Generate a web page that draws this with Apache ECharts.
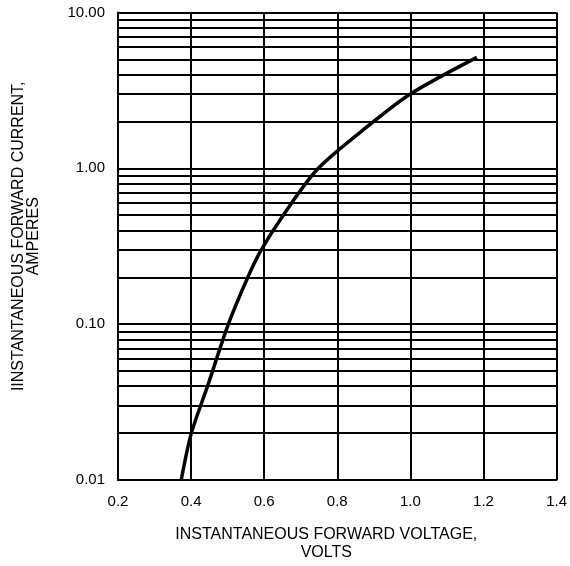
<!DOCTYPE html>
<html>
<head>
    <meta charset="utf-8" />
    <title>Forward characteristics</title>
    <script src="https://cdn.jsdelivr.net/npm/echarts@6/dist/echarts.min.js"></script>
    <style type="text/css">
        * {
            margin: 0;
            padding: 0;
        }
        html, body {
            width: 570px;
            height: 566px;
            background: #fff;
        }
        #chart {
            width: 570px;
            height: 566px;
        }
    </style>
</head>
<body>
    <div id="chart"></div>
</body>
</html>
<script type="text/javascript">
    // curve (volts -> amperes)
    var voltage = [0.373, 0.400, 0.445, 0.502, 0.554, 0.590, 0.649, 0.748, 0.893, 1.000, 1.182];
    var current = [0.010, 0.0197, 0.040, 0.100, 0.197, 0.294, 0.488, 1.00, 1.94, 3.00, 5.15];

    // log paper lines between the decades
    var minorLines = [0.02, 0.03, 0.04, 0.05, 0.06, 0.07, 0.08, 0.09,
                      0.2, 0.3, 0.4, 0.5, 0.6, 0.7, 0.8, 0.9,
                      2, 3, 4, 5, 6, 7, 8, 9];

    var xTicks = { min: 0.2, max: 1.4, step: 0.2 };
    var yTicks = { min: 0.01, max: 10 };

    var font = '"Liberation Sans", Arial, sans-serif';

    var points = [];
    for (var i = 0; i < voltage.length; i++) {
        points.push([voltage[i], current[i]]);
    }

    var gridMarks = [];
    for (var j = 0; j < minorLines.length; j++) {
        gridMarks.push({ yAxis: minorLines[j] });
    }

    var myChart = echarts.init(document.getElementById('chart'), null, { renderer: 'canvas' });

    var option = {
        backgroundColor: '#fff',
        animation: false,
        grid: { left: 118, top: 12.5, right: 10, bottom: 83 },
        xAxis: {
            type: 'value',
            min: xTicks.min,
            max: xTicks.max,
            interval: xTicks.step,
            name: 'INSTANTANEOUS FORWARD VOLTAGE,\nVOLTS',
            nameLocation: 'middle',
            nameGap: 46,
            nameTextStyle: { color: '#000', fontSize: 16, fontFamily: font, lineHeight: 17.5, padding: [0, 22, 0, 0] },
            axisLine: { lineStyle: { color: '#000', width: 2 } },
            axisTick: { show: false },
            axisLabel: { color: '#000', fontSize: 15, fontFamily: font, margin: 14, formatter: function (v) { return v.toFixed(1); } },
            splitLine: { show: true, lineStyle: { color: '#000', width: 2 } }
        },
        yAxis: {
            type: 'log',
            logBase: 10,
            min: yTicks.min,
            max: yTicks.max,
            name: 'IINSTANTANEOUS FORWARD CURRENT,\nAMPERES',
            nameLocation: 'middle',
            nameRotate: 90,
            nameGap: 77,
            nameTextStyle: { color: '#000', fontSize: 16, fontFamily: font, lineHeight: 15, padding: [0, 0, 0, 20] },
            axisLine: { show: true, lineStyle: { color: '#000', width: 2 } },
            axisTick: { show: false },
            axisLabel: { color: '#000', fontSize: 15, fontFamily: font, margin: 13, formatter: function (v) { return v.toFixed(2); } },
            splitLine: { show: true, lineStyle: { color: '#000', width: 2 } }
        },
        series: [{
            type: 'line',
            data: points,
            smooth: 0.3,
            showSymbol: false,
            lineStyle: { color: '#000', width: 3.5 },
            z: 5,
            markLine: {
                silent: true,
                symbol: ['none', 'none'],
                label: { show: false },
                lineStyle: { color: '#000', width: 2, type: 'solid' },
                data: gridMarks,
                z: 1
            }
        }]
    };

    myChart.setOption(option);
</script>
